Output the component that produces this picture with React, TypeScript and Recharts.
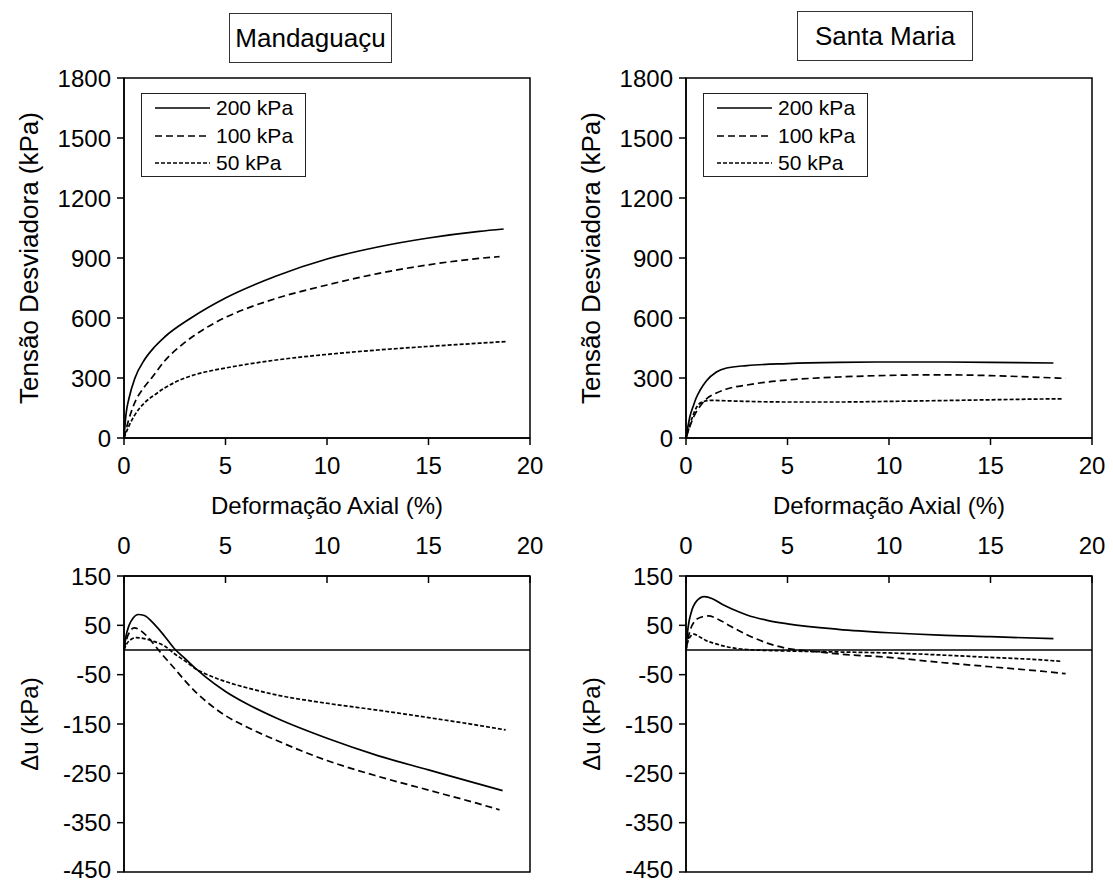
import React from "react";
import { LineChart, Line, XAxis, YAxis, ReferenceArea, ReferenceLine } from "recharts";

const FONT = '"Liberation Sans", Arial, sans-serif';

// confining pressures, in legend order
const pressures = ["200 kPa", "100 kPa", "50 kPa"];
const strainTicks = [0, 5, 10, 15, 20];
const stressTicks = [0, 300, 600, 900, 1200, 1500, 1800];
const poreTicks = [150, 50, -50, -150, -250, -350, -450];

// Mandaguaçu - deviator stress (kPa) vs axial strain (%)
const mandQStrain200 = [0, 0.1, 0.25, 0.54, 1, 1.5, 2, 3.3, 5, 7.5, 10, 12.5, 15, 17.5, 18.7];
const mandQ200 = [0, 120, 200, 300, 390, 455, 505, 600, 700, 810, 895, 955, 1000, 1033, 1045];
const mandQStrain100 = [0, 0.2, 0.5, 1, 1.36, 2, 3, 4, 5, 6, 7.5, 10, 12.5, 15, 17.5, 18.5];
const mandQ100 = [0, 80, 170, 255, 300, 385, 478, 548, 603, 646, 698, 765, 822, 866, 898, 907];
const mandQStrain50 = [0, 0.2, 0.5, 1, 1.5, 2, 3, 4, 5, 7.5, 10, 12.5, 15, 17.5, 18.8];
const mandQ50 = [0, 50, 110, 175, 215, 250, 300, 330, 350, 390, 418, 440, 458, 474, 482];

// Santa Maria - deviator stress
const smQStrain200 = [0, 0.1, 0.2, 0.36, 0.5, 0.7, 1, 1.5, 2, 3, 5, 7.5, 10, 12.5, 15, 18.1];
const smQ200 = [0, 60, 110, 160, 200, 240, 285, 330, 350, 362, 372, 378, 380, 380, 378, 375];
const smQStrain100 = [0, 0.2, 0.4, 0.7, 1, 1.5, 2, 3, 4, 5, 7.5, 10, 12.5, 15, 17, 18.7];
const smQ100 = [0, 60, 110, 160, 195, 225, 245, 265, 280, 290, 305, 313, 316, 312, 305, 298];
const smQStrain50 = [0, 0.15, 0.3, 0.5, 0.8, 1.2, 2, 3, 5, 7.5, 10, 12.5, 15, 17.5, 18.6];
const smQ50 = [0, 50, 100, 150, 180, 188, 186, 183, 180, 180, 183, 187, 191, 195, 196];

// Mandaguaçu - pore pressure change (kPa)
const mandUStrain200 = [0, 0.1, 0.25, 0.45, 0.7, 1, 1.5, 2, 2.5, 3, 3.6, 4, 5, 6, 7.5, 10, 12.5, 15, 17.5, 18.65];
const mandU200 = [0, 28, 50, 65, 72, 70, 52, 28, 2, -17, -40, -54, -84, -108, -138, -179, -214, -243, -272, -285];
const mandUStrain100 = [0, 0.1, 0.3, 0.5, 0.8, 1.2, 1.6, 1.9, 2.5, 3, 3.6, 4.1, 5, 6, 7.5, 10, 12.5, 15, 17.5, 18.5];
const mandU100 = [0, 18, 38, 45, 40, 25, 5, -10, -38, -62, -88, -106, -133, -155, -183, -224, -256, -284, -312, -324];
const mandUStrain50 = [0, 0.1, 0.3, 0.6, 1, 1.5, 2, 2.5, 3, 3.6, 4, 5, 6, 7.5, 10, 12.5, 15, 17.5, 18.8];
const mandU50 = [0, 10, 20, 25, 23, 17, 8, -8, -22, -40, -48, -64, -76, -91, -108, -122, -137, -153, -162];

// Santa Maria - pore pressure change
const smUStrain200 = [0, 0.1, 0.25, 0.5, 0.9, 1.3, 1.8, 2.5, 3, 4, 5, 7.5, 10, 12.5, 15, 18.1];
const smU200 = [0, 45, 75, 98, 108, 104, 92, 79, 71, 60, 53, 42, 35, 30, 27, 23];
const smUStrain100 = [0, 0.15, 0.4, 0.7, 1.1, 1.6, 2.2, 3, 4, 5, 6.3, 7.5, 10, 12.5, 15, 17.5, 18.7];
const smU100 = [0, 32, 57, 66, 69, 62, 48, 31, 14, 3, -3, -8, -15, -25, -34, -43, -48];
const smUStrain50 = [0, 0.1, 0.37, 0.7, 1, 1.35, 2.2, 3, 5, 7.5, 10, 12.5, 15, 17.5, 18.5];
const smU50 = [0, 18, 32, 26, 19, 14, 5, 1, -2, -4, -6, -10, -15, -20, -23];

const dashes = ["", "7 4", "4 2"];

type Pt = { x: number; y: number };
const rows = (xs: number[], ys: number[]): Pt[] => xs.map((x, i) => ({ x, y: ys[i] }));

const mandStress = [rows(mandQStrain200, mandQ200), rows(mandQStrain100, mandQ100), rows(mandQStrain50, mandQ50)];
const smStress = [rows(smQStrain200, smQ200), rows(smQStrain100, smQ100), rows(smQStrain50, smQ50)];
const mandPore = [rows(mandUStrain200, mandU200), rows(mandUStrain100, mandU100), rows(mandUStrain50, mandU50)];
const smPore = [rows(smUStrain200, smU200), rows(smUStrain100, smU100), rows(smUStrain50, smU50)];

const tickStyle = { fill: "#000", fontSize: 24 };

function LegendBox({ left }: { left: number }) {
  return (
    <div
      style={{
        position: "absolute",
        left,
        top: 93,
        width: 163,
        height: 82,
        border: "1.5px solid #222",
        background: "#fff",
      }}
    >
      {pressures.map((p, i) => (
        <div key={p} style={{ position: "absolute", left: 0, top: 2 + i * 27.5, height: 24, display: "flex", alignItems: "center" }}>
          <svg width={74} height={24}>
            <line x1={13} x2={68} y1={12} y2={12} stroke="#000" strokeWidth={1.6} strokeDasharray={dashes[i] || undefined} />
          </svg>
          <span style={{ fontSize: 21, lineHeight: "24px", color: "#000" }}>{p}</span>
        </div>
      ))}
    </div>
  );
}

function StressPanel({ left, series }: { left: number; series: Pt[][] }) {
  return (
    <div style={{ position: "absolute", left, top: 0 }}>
      <LineChart width={560} height={520} margin={{ top: 78, right: 30, bottom: 6, left: 0 }}>
        <XAxis
          type="number"
          dataKey="x"
          domain={[0, 20]}
          ticks={strainTicks}
          height={76}
          tickSize={7}
          tickMargin={12}
          stroke="#000"
          strokeWidth={1.5}
          tick={tickStyle}
          label={{ value: "Deformação Axial (%)", position: "insideBottom", offset: 0, fill: "#000", fontSize: 24 }}
        />
        <YAxis
          type="number"
          domain={[0, 1800]}
          ticks={stressTicks}
          width={124}
          tickSize={7}
          tickMargin={6}
          stroke="#000"
          strokeWidth={1.5}
          tick={tickStyle}
          label={{
            value: "Tensão Desviadora (kPa)",
            angle: -90,
            position: "insideLeft",
            offset: 29,
            fill: "#000",
            fontSize: 26,
            style: { textAnchor: "middle" },
          }}
        />
        <ReferenceArea x1={0} x2={20} y1={0} y2={1800} fill="none" stroke="#000" strokeWidth={1.5} />
        {series.map((d, i) => (
          <Line
            key={pressures[i]}
            name={pressures[i]}
            data={d}
            dataKey="y"
            type="monotone"
            stroke="#000"
            strokeWidth={1.7}
            strokeDasharray={dashes[i] || undefined}
            dot={false}
            isAnimationActive={false}
          />
        ))}
      </LineChart>
      <LegendBox left={141} />
    </div>
  );
}

function PorePanel({ left, series }: { left: number; series: Pt[][] }) {
  return (
    <div style={{ position: "absolute", left, top: 490 }}>
      <LineChart width={560} height={393} margin={{ top: 0, right: 30, bottom: 11, left: 0 }}>
        <XAxis
          type="number"
          dataKey="x"
          orientation="top"
          domain={[0, 20]}
          ticks={strainTicks}
          height={86}
          tickSize={-7}
          tickMargin={29}
          stroke="#000"
          strokeWidth={1.5}
          tick={tickStyle}
        />
        <YAxis
          type="number"
          domain={[-450, 150]}
          ticks={poreTicks}
          width={124}
          tickSize={7}
          tickMargin={6}
          stroke="#000"
          strokeWidth={1.5}
          tick={tickStyle}
          label={{
            value: "Δu (kPa)",
            angle: -90,
            position: "insideLeft",
            offset: 29,
            fill: "#000",
            fontSize: 24,
            style: { textAnchor: "middle" },
          }}
        />
        <ReferenceArea x1={0} x2={20} y1={-450} y2={150} fill="none" stroke="#000" strokeWidth={1.5} />
        <ReferenceLine y={0} stroke="#000" strokeWidth={1.5} />
        {series.map((d, i) => (
          <Line
            key={pressures[i]}
            name={pressures[i]}
            data={d}
            dataKey="y"
            type="monotone"
            stroke="#000"
            strokeWidth={1.7}
            strokeDasharray={dashes[i] || undefined}
            dot={false}
            isAnimationActive={false}
          />
        ))}
      </LineChart>
    </div>
  );
}

function TitleBox({ left, top, width, text }: { left: number; top: number; width: number; text: string }) {
  return (
    <div
      style={{
        position: "absolute",
        left,
        top,
        width,
        height: 50,
        border: "1.5px solid #333",
        boxSizing: "border-box",
        display: "flex",
        alignItems: "center",
        justifyContent: "center",
        fontSize: 26,
        color: "#000",
      }}
    >
      {text}
    </div>
  );
}

export default function App() {
  return (
    <div style={{ position: "absolute", left: 0, top: 0, width: 1113, height: 883, background: "#fff", fontFamily: FONT }}>
      <TitleBox left={229} top={13} width={163} text="Mandaguaçu" />
      <TitleBox left={797} top={11} width={176} text="Santa Maria" />
      <StressPanel left={0} series={mandStress} />
      <StressPanel left={562} series={smStress} />
      <PorePanel left={0} series={mandPore} />
      <PorePanel left={562} series={smPore} />
    </div>
  );
}
